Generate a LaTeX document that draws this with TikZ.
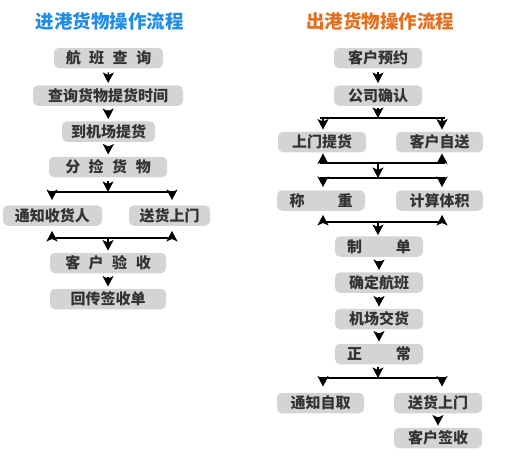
\documentclass[tikz,border=0pt]{standalone}
\usepackage{fontspec}
\newfontfamily\cjk{Noto Sans CJK SC}
\usetikzlibrary{arrows.meta}
\definecolor{boxgray}{RGB}{212,212,212}
\definecolor{txtgray}{RGB}{51,51,51}
\definecolor{titleblue}{RGB}{32,140,232}
\definecolor{titleorange}{RGB}{226,112,28}
\begin{document}
\begin{tikzpicture}[x=1pt,y=-1pt,
  box/.style={fill=boxgray, rounded corners=5pt, minimum height=20.5pt, inner sep=0pt,
    font=\cjk\bfseries\fontsize{15}{15}\selectfont, text=txtgray},
  arr/.style={-{Stealth[length=10.5pt,width=11pt,inset=2.5pt]}, line width=1.4pt},
  bar/.style={line width=2pt},
  ttl/.style={font=\cjk\bfseries\fontsize{18.5}{18.5}\selectfont}]
\useasboundingbox (0,0) rectangle (509,463);

% titles
\node[ttl,text=titleblue] (t1) at (109.5,21.5) {进港货物操作流程};
\node[ttl,text=titleorange] (t2) at (380,21.5) {出港货物操作流程};

% ---------- left column ----------
\node[box,minimum width=109pt] (a1) at (108.5,58) {航\hspace{8.5pt}班\hspace{8.5pt}查\hspace{8.5pt}询};
\node[box,minimum width=150pt] (a2) at (108,95.5) {查询货物提货时间};
\node[box,minimum width=93pt] (a3) at (108.5,131.5) {到机场提货};
\node[box,minimum width=118pt] (a4) at (108,167) {分\hspace{8.5pt}捡\hspace{8.5pt}货\hspace{8.5pt}物};
\node[box,minimum width=99pt] (a5) at (52.5,215.5) {通知收货人};
\node[box,minimum width=81pt] (a6) at (169.5,215.5) {送货上门};
\node[box,minimum width=116pt] (a7) at (108,263) {客\hspace{8.5pt}户\hspace{8.5pt}验\hspace{8.5pt}收};
\node[box,minimum width=116pt] (a8) at (108,299) {回传签收单};

\draw[arr,shorten <=4pt,shorten >=2pt] (a1) -- (a2);
\draw[arr,shorten <=4pt,shorten >=2pt] (a2) -- (a3);
\draw[arr,shorten <=4pt,shorten >=2pt] (a3) -- (a4);

\coordinate (L1m) at (108,192);
\coordinate (L1a) at (52,192);
\coordinate (L1b) at (172,192);
\draw[arr,shorten <=4pt] (a4.south) -- (L1m);
\draw[bar] ([xshift=-3pt]L1a) -- ([xshift=3pt]L1b);
\draw[arr,shorten >=5pt] (L1a) -- (L1a |- a5.north);
\draw[arr,shorten >=5pt] (L1b) -- (L1b |- a6.north);

\coordinate (L2m) at (108,238);
\coordinate (L2a) at (52,238);
\coordinate (L2b) at (172,238);
\draw[bar] ([xshift=-3pt]L2a) -- ([xshift=3pt]L2b);
\draw[arr,shorten >=5pt] (L2a) -- (L2a |- a5.south);
\draw[arr,shorten >=5pt] (L2b) -- (L2b |- a6.south);
\draw[arr,shorten >=2pt] (L2m) -- (a7.north);
\draw[arr,shorten <=4pt,shorten >=2pt] (a7) -- (a8);

% ---------- right column ----------
\node[box,minimum width=88pt] (b1) at (378,58) {客户预约};
\node[box,minimum width=88pt] (b2) at (378,95.5) {公司确认};
\node[box,minimum width=88pt] (b3) at (322,142) {上门提货};
\node[box,minimum width=87pt] (b4) at (439.5,142) {客户自送};
\node[box,minimum width=88pt] (b5) at (321,200.5) {称\hspace{33pt}重};
\node[box,minimum width=87pt] (b6) at (439.5,200.5) {计算体积};
\node[box,minimum width=88pt] (b7) at (379,246.5) {制\hspace{34pt}单};
\node[box,minimum width=88pt] (b8) at (379,282.5) {确定航班};
\node[box,minimum width=88pt] (b9) at (379,319) {机场交货};
\node[box,minimum width=88pt] (b10) at (379,354) {正\hspace{34pt}常};
\node[box,minimum width=87pt] (b11) at (320.5,403) {通知自取};
\node[box,minimum width=88pt] (b12) at (438,403) {送货上门};
\node[box,minimum width=88pt] (b13) at (438,438) {客户签收};

\draw[arr,shorten <=4pt,shorten >=2pt] (b1) -- (b2);

\coordinate (R1m) at (378,118);
\coordinate (R1a) at (323,118);
\coordinate (R1b) at (442,118);
\draw[arr,shorten <=2pt] (b2.south) -- (R1m);
\draw[bar] ([xshift=-3pt]R1a) -- ([xshift=3pt]R1b);
\draw[arr,shorten >=2pt] (R1a) -- (R1a |- b3.north);
\draw[arr,shorten >=2pt] (R1b) -- (R1b |- b4.north);

\coordinate (R2m) at (378,163);
\coordinate (R2a) at (323,163);
\coordinate (R2b) at (442,163);
\draw[bar] ([xshift=-3pt]R2a) -- ([xshift=3pt]R2b);
\draw[arr,shorten >=1pt] (R2a) -- (R2a |- b3.south);
\draw[arr,shorten >=1pt] (R2b) -- (R2b |- b4.south);

\coordinate (R3m) at (378,178);
\coordinate (R3a) at (323,178);
\coordinate (R3b) at (442,178);
\draw[arr] (R2m) -- (R3m);
\draw[bar] ([xshift=-3pt]R3a) -- ([xshift=3pt]R3b);
\draw[arr,shorten >=3pt] (R3a) -- (R3a |- b5.north);
\draw[arr,shorten >=3pt] (R3b) -- (R3b |- b6.north);

\coordinate (R4m) at (378,222);
\coordinate (R4a) at (323,222);
\coordinate (R4b) at (442,222);
\draw[bar] ([xshift=-3pt]R4a) -- ([xshift=3pt]R4b);
\draw[arr,shorten >=4pt] (R4a) -- (R4a |- b5.south);
\draw[arr,shorten >=4pt] (R4b) -- (R4b |- b6.south);
\draw[arr,shorten >=1pt] (R4m) -- (R4m |- b7.north);

\draw[arr,shorten <=4pt,shorten >=2pt] (b7) -- (b8);
\draw[arr,shorten <=4pt,shorten >=2pt] (b8) -- (b9);
\draw[arr,shorten <=4pt,shorten >=2pt] (b9) -- (b10);

\coordinate (R5m) at (378,378);
\coordinate (R5a) at (323,378);
\coordinate (R5b) at (442,378);
\draw[arr,shorten <=3pt] (b10.south -| R5m) -- (R5m);
\draw[bar] ([xshift=-3pt]R5a) -- ([xshift=3pt]R5b);
\draw[arr,shorten >=6pt] (R5a) -- (R5a |- b11.north);
\draw[arr,shorten >=6pt] (R5b) -- (R5b |- b12.north);

\draw[arr,shorten <=4pt,shorten >=2pt] (b12) -- (b13);
\end{tikzpicture}
\end{document}
